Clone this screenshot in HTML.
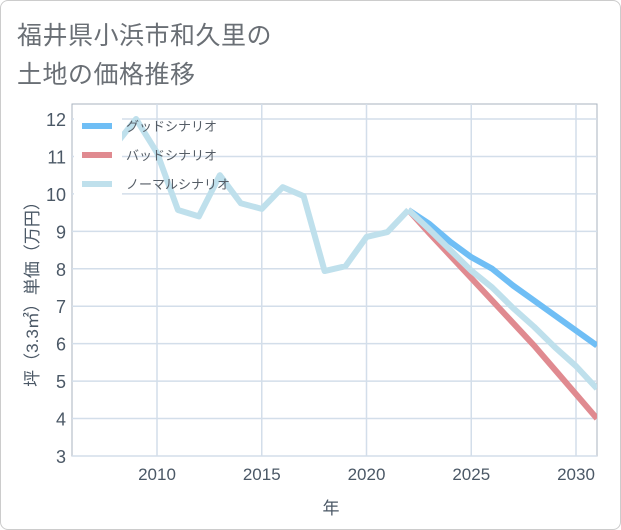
<!DOCTYPE html>
<html><head><meta charset="utf-8"><style>
body{margin:0;background:#fff;}
#card{position:absolute;left:0;top:0;width:619px;height:528px;border:1px solid #ccc;border-radius:8px;background:#fff;}
.t{position:absolute;left:17px;font:25px "Liberation Sans","Noto Sans CJK JP",sans-serif;color:#6a6f75;letter-spacing:0.5px;}
svg{position:absolute;left:0;top:0;}
text{font-family:"Liberation Sans","Noto Sans CJK JP",sans-serif;}
</style></head><body>
<div id="card"></div>
<div class="t" style="top:16px">福井県小浜市和久里の</div>
<div class="t" style="top:55px">土地の価格推移</div>
<svg id="c" width="621" height="530"></svg>
<script>
const years=[2008,2009,2010,2011,2012,2013,2014,2015,2016,2017,2018,2019,2020,2021,2022,2023,2024,2025,2026,2027,2028,2029,2030,2031];
const normalHist=[11.3,12.0,11.1,9.57,9.4,10.5,9.75,9.6,10.18,9.94,7.94,8.07,8.85,8.98,9.57];
const futureYears=[2022,2023,2024,2025,2026,2027,2028,2029,2030,2031];
const goodVals=[9.57,9.2,8.72,8.31,8.0,7.55,7.15,6.75,6.35,5.95];
const badVals=[9.57,8.95,8.35,7.75,7.15,6.55,5.95,5.3,4.65,4.0];
const normalVals=[9.57,9.05,8.5,7.95,7.5,6.95,6.45,5.9,5.4,4.8];
const yTicks=[3,4,5,6,7,8,9,10,11,12];
const xTicks=[2010,2015,2020,2025,2030];
const L=72,R=597,T=104,B=456;
const x=v=>157+(v-2010)*(576-157)/20;
const y=v=>456-(v-3)*(456-119)/9;
const s=document.getElementById('c'),NS='http://www.w3.org/2000/svg';
function mk(t,a,p){const e=document.createElementNS(NS,t);for(const k in a)e.setAttribute(k,a[k]);(p||s).appendChild(e);return e;}
let e;
e=mk('rect',{x:L,y:T,width:R-L,height:B-T,fill:'#fff',stroke:'#a9b3bf','stroke-width':1});


yTicks.forEach(v=>{
 e=mk('line',{x1:L,x2:R,y1:y(v),y2:y(v),stroke:'#d3deea','stroke-width':1.5});
 
 
 e=mk('text',{x:L-6,y:y(v)+7,'text-anchor':'end','font-size':18,fill:'#4b5866'});e.textContent=v;
 
 
});
xTicks.forEach(v=>{
 e=mk('line',{x1:x(v),x2:x(v),y1:T,y2:B,stroke:'#d3deea','stroke-width':1.5});
 
 
 e=mk('text',{x:x(v),y:B+24,'text-anchor':'middle','font-size':17,fill:'#4b5866'});e.textContent=v;
 
 
});
const clip=mk('clipPath',{id:'pc'});mk('rect',{x:L,y:T,width:R-L,height:B-T},clip);
function line(xs,vs,col,name){
 e=mk('polyline',{points:xs.map((yr,i)=>x(yr)+','+y(vs[i])).join(' '),fill:'none',stroke:col,'stroke-width':6,'stroke-linejoin':'round','clip-path':'url(#pc)'});
 
 
}
line(futureYears,goodVals,'#6fbef5','good-scenario-line');
line(futureYears,badVals,'#e08a90','bad-scenario-line');
line(years.slice(0,normalHist.length),normalHist,'#bfe0ec','normal-history-line');
line(futureYears,normalVals,'#bfe0ec','normal-scenario-line');
e=mk('rect',{x:74,y:110,width:48,height:86,fill:'#fff'});


const leg=[['グッドシナリオ','#6fbef5'],['バッドシナリオ','#e08a90'],['ノーマルシナリオ','#bfe0ec']];
leg.forEach((l,i)=>{
 const yy=126+i*29;
 e=mk('line',{x1:82,x2:112,y1:yy,y2:yy,stroke:l[1],'stroke-width':6});
 
 
 e=mk('text',{x:126,y:yy+5,'font-size':13,fill:'#555d66'});e.textContent=l[0];
 
 
});
e=mk('text',{x:331,y:514,'text-anchor':'middle','font-size':17,fill:'#4b5866'});e.textContent='年';


e=mk('text',{x:0,y:0,'text-anchor':'middle','font-size':17,fill:'#4b5866',transform:'translate(38,290) rotate(-90)'});e.textContent='坪（3.3㎡）単価（万円）';


</script>
</body></html>
